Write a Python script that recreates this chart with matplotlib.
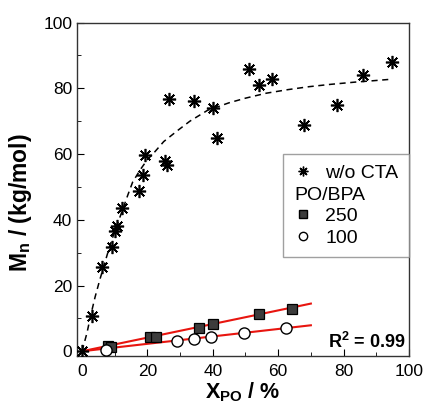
import matplotlib.pyplot as plt
from matplotlib.lines import Line2D
from matplotlib.ticker import MultipleLocator

plt.rcParams['font.family'] = ['Liberation Sans', 'DejaVu Sans']
plt.rcParams['mathtext.fontset'] = 'custom'
plt.rcParams['mathtext.rm'] = 'Liberation Sans'
plt.rcParams['mathtext.bf'] = 'Liberation Sans:bold'

# w/o CTA (stars)
x_nocta = [0, 3.1, 6.2, 9.2, 10.1, 10.6, 12.1, 17.3, 18.7, 19.4, 25.5, 26.0, 26.5,
           34.1, 40.2, 41.3, 51.0, 54.1, 58.0, 68.0, 78.1, 86.0, 94.9]
y_nocta = [0, 10.6, 25.6, 31.7, 36.6, 38.0, 43.7, 48.7, 53.7, 59.8, 57.8, 56.7, 76.8,
           76.0, 74.0, 64.8, 85.9, 80.9, 82.9, 68.9, 74.8, 83.9, 87.9]

# dashed guide curve
x_curve = [0, 1.5, 2.8, 4.0, 5.4, 7.0, 8.4, 10.0, 12.0, 14.0, 15.5, 18.0, 20.0, 22.2,
           25.0, 29.3, 33.0, 38.4, 45.0, 50.0, 56.3, 63.0, 69.5, 76.0, 83.7, 89.0, 93.9]
y_curve = [0, 5.5, 11.5, 16.5, 21.6, 27.0, 31.7, 36.5, 41.9, 47.5, 51.5, 55.5, 58.3, 60.6,
           63.8, 67.2, 70.0, 73.3, 75.6, 77.0, 78.5, 79.6, 80.5, 81.2, 81.9, 82.3, 82.7]

# PO/BPA = 250
x_250 = [8.0, 9.0, 20.9, 22.6, 35.8, 40.2, 54.1, 64.1]
y_250 = [1.5, 1.4, 4.2, 4.4, 7.1, 8.4, 11.2, 12.8]

# PO/BPA = 100
x_100 = [7.3, 29.1, 34.4, 39.3, 49.4, 62.3]
y_100 = [0.3, 3.1, 3.7, 4.4, 5.4, 7.1]

# linear fits
x_fit = [0, 70]
y_fit_250 = [0, 14.5]
y_fit_100 = [0, 7.9]

fig = plt.figure(figsize=(4.26, 4.03), dpi=100)
ax = fig.add_axes([0.181, 0.117, 0.779, 0.827])

ax.plot(x_curve, y_curve, color='black', linestyle=(0, (4, 3)), linewidth=1.1, zorder=2)
ax.plot(x_fit, y_fit_250, color='#e8150f', linewidth=1.5, zorder=2)
ax.plot(x_fit, y_fit_100, color='#e8150f', linewidth=1.5, zorder=2)
ax.plot(x_nocta, y_nocta, linestyle='none', marker=(8, 2, 0), markersize=9.5,
        color='black', markeredgewidth=1.2, zorder=3)
ax.plot(x_250, y_250, linestyle='none', marker='s', markersize=7.5,
        markerfacecolor='#3c3c3c', markeredgecolor='black', markeredgewidth=0.9, zorder=3)
ax.plot(x_100, y_100, linestyle='none', marker='o', markersize=8,
        markerfacecolor='white', markeredgecolor='black', markeredgewidth=1.0, zorder=3)

ax.set_xlim(-1.5, 100)
ax.set_ylim(-1.4, 100)
ax.xaxis.set_major_locator(MultipleLocator(20))
ax.xaxis.set_minor_locator(MultipleLocator(10))
ax.yaxis.set_major_locator(MultipleLocator(20))
ax.yaxis.set_minor_locator(MultipleLocator(10))
ax.tick_params(which='both', direction='in', labelsize=12.5, top=False, right=False)
ax.tick_params(which='major', length=5)
ax.tick_params(which='minor', length=3)
ax.tick_params(axis='x', pad=6)
for sp in ax.spines.values():
    sp.set_linewidth(1.0)
    sp.set_color('#333333')

ax.set_xlabel(r'$\mathbf{X_{PO}}$ / %', fontsize=15.5, fontweight='bold', labelpad=1)
ax.set_ylabel(r'$\mathbf{M_n}$ / (kg/mol)', fontsize=16.5, fontweight='bold')
ax.yaxis.set_label_coords(-0.13, 0.46)

ax.text(99, 1.0, r'R$^\mathbf{2}$ = 0.99', fontsize=13, fontweight='bold',
        ha='right', va='baseline')

handles = [
    Line2D([], [], linestyle='none', marker=(8, 2, 0), markersize=7, color='black'),
    Line2D([], [], linestyle='none'),
    Line2D([], [], linestyle='none', marker='s', markersize=6,
           markerfacecolor='#3c3c3c', markeredgecolor='black'),
    Line2D([], [], linestyle='none', marker='o', markersize=6,
           markerfacecolor='white', markeredgecolor='black'),
]
labels = ['w/o CTA', 'PO/BPA', '250', '100']
leg_fs = 14
hl, htp = 0.93, 0.67
leg = ax.legend(handles, labels, loc='upper right', bbox_to_anchor=(1.0, 0.606),
                fontsize=leg_fs, frameon=True, fancybox=False, handlelength=hl,
                handletextpad=htp, borderpad=0.55, labelspacing=0.2, borderaxespad=0)
leg.get_frame().set_edgecolor('#888888')
leg.get_frame().set_linewidth(1.0)
fig.canvas.draw()
# shift "PO/BPA" to start where the markers start
shift = (hl + htp) * leg_fs * 100 / 72
leg.get_texts()[1].set_x(-shift)

fig.savefig('out.png', dpi=100)
